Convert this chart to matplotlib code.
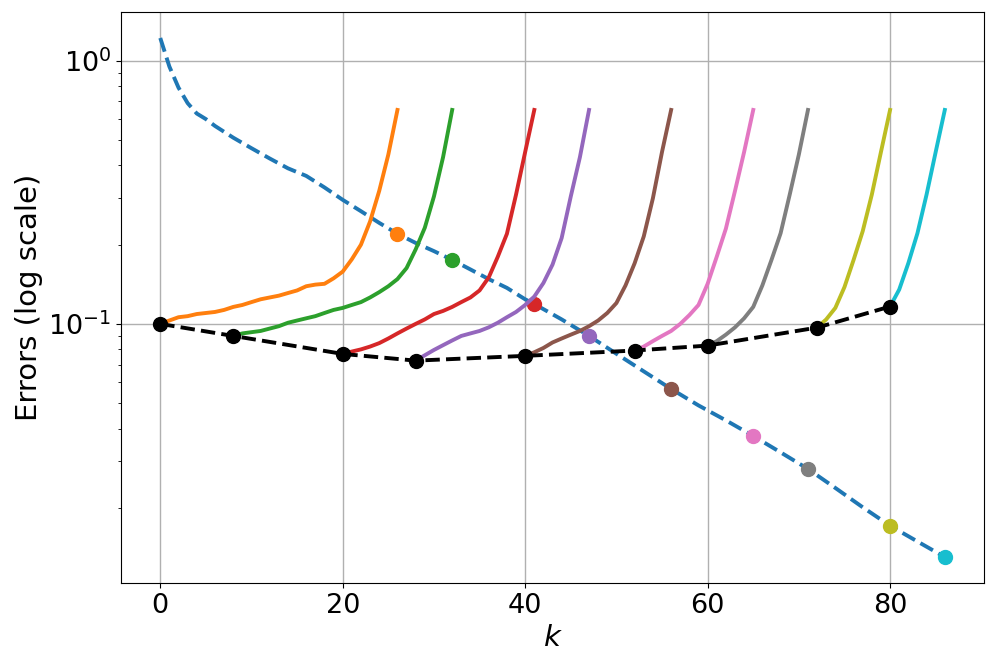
import numpy as np
import matplotlib
matplotlib.use("Agg")
import matplotlib.pyplot as plt

# reference error curve (blue dashed)
blue_k = [0, 1, 2, 3, 4, 5, 6, 8, 10, 12, 14, 16, 18, 20, 22, 24, 26, 28, 30, 32,
          34, 36, 38, 40, 41, 44, 47, 50, 53, 56, 59, 62, 65, 68, 71, 74, 77, 80, 83, 86]
blue_err = [1.22, 0.95, 0.79, 0.69, 0.63, 0.60, 0.565, 0.51, 0.465, 0.425, 0.39, 0.365,
            0.33, 0.296, 0.268, 0.242, 0.220, 0.203, 0.189, 0.175, 0.161, 0.148, 0.137,
            0.124, 0.119, 0.104, 0.090, 0.077, 0.066, 0.0566, 0.049, 0.043, 0.0375,
            0.0325, 0.0281, 0.0238, 0.0201, 0.0171, 0.0149, 0.0130]

# restart points (black dashed)
restart_k = [0, 8, 20, 28, 40, 52, 60, 72, 80]
restart_err = [0.100, 0.0900, 0.0769, 0.0725, 0.0756, 0.0792, 0.0827, 0.0968, 0.1164]

# end of each run
end_k = [26, 32, 41, 47, 56, 65, 71, 80, 86]

# error curves of each run, one value per k from restart_k[i] to end_k[i]
runs = [
    [0.100, 0.103, 0.106, 0.107, 0.109, 0.110, 0.111, 0.113, 0.116, 0.118, 0.121, 0.124,
     0.126, 0.128, 0.131, 0.134, 0.139, 0.141, 0.142, 0.149, 0.158, 0.176, 0.200, 0.245,
     0.320, 0.440, 0.650],
    [0.090, 0.092, 0.093, 0.094, 0.096, 0.098, 0.101, 0.103, 0.105, 0.107, 0.110, 0.113,
     0.115, 0.118, 0.121, 0.126, 0.132, 0.139, 0.148, 0.163, 0.192, 0.232, 0.305, 0.430,
     0.650],
    [0.0769, 0.0785, 0.080, 0.082, 0.0845, 0.088, 0.092, 0.096, 0.100, 0.104, 0.109,
     0.112, 0.116, 0.121, 0.126, 0.134, 0.150, 0.180, 0.220, 0.310, 0.450, 0.650],
    [0.0725, 0.076, 0.0796, 0.083, 0.0865, 0.090, 0.092, 0.094, 0.097, 0.101, 0.106,
     0.111, 0.118, 0.127, 0.143, 0.168, 0.212, 0.305, 0.430, 0.650],
    [0.0756, 0.078, 0.081, 0.085, 0.088, 0.091, 0.094, 0.098, 0.103, 0.110, 0.120,
     0.140, 0.170, 0.215, 0.300, 0.450, 0.650],
    [0.0792, 0.082, 0.086, 0.090, 0.094, 0.100, 0.108, 0.118, 0.142, 0.180, 0.230,
     0.320, 0.450, 0.650],
    [0.0827, 0.086, 0.091, 0.097, 0.105, 0.116, 0.140, 0.175, 0.221, 0.310, 0.440, 0.650],
    [0.0968, 0.104, 0.115, 0.138, 0.175, 0.225, 0.310, 0.450, 0.650],
    [0.1164, 0.135, 0.170, 0.221, 0.310, 0.450, 0.650],
]

colors = ['tab:orange', 'tab:green', 'tab:red', 'tab:purple', 'tab:brown',
          'tab:pink', 'tab:gray', 'tab:olive', 'tab:cyan']

fig = plt.figure(figsize=(9.97, 6.68), dpi=100)
ax = fig.add_axes([0.1214, 0.1272, 0.8656, 0.8548])

ax.plot(blue_k, blue_err, '--', color='tab:blue', lw=2.8)

blue_at = dict(zip(blue_k, blue_err))
for i, vals in enumerate(runs):
    ks = np.arange(restart_k[i], end_k[i] + 1)
    ax.plot(ks, vals, '-', color=colors[i], lw=2.8)
    ax.plot(end_k[i], blue_at[end_k[i]], 'o', color=colors[i], ms=10)

ax.plot(restart_k, restart_err, 'o--', color='black', lw=2.8, ms=10)

ax.set_yscale('log')
ax.grid(True, which='major', color='#b0b0b0', lw=1)
ax.tick_params(labelsize=19.5)
ax.set_xlabel('$k$', fontsize=21)
ax.set_ylabel('Errors (log scale)', fontsize=21)

plt.savefig('out.png', dpi=100)
